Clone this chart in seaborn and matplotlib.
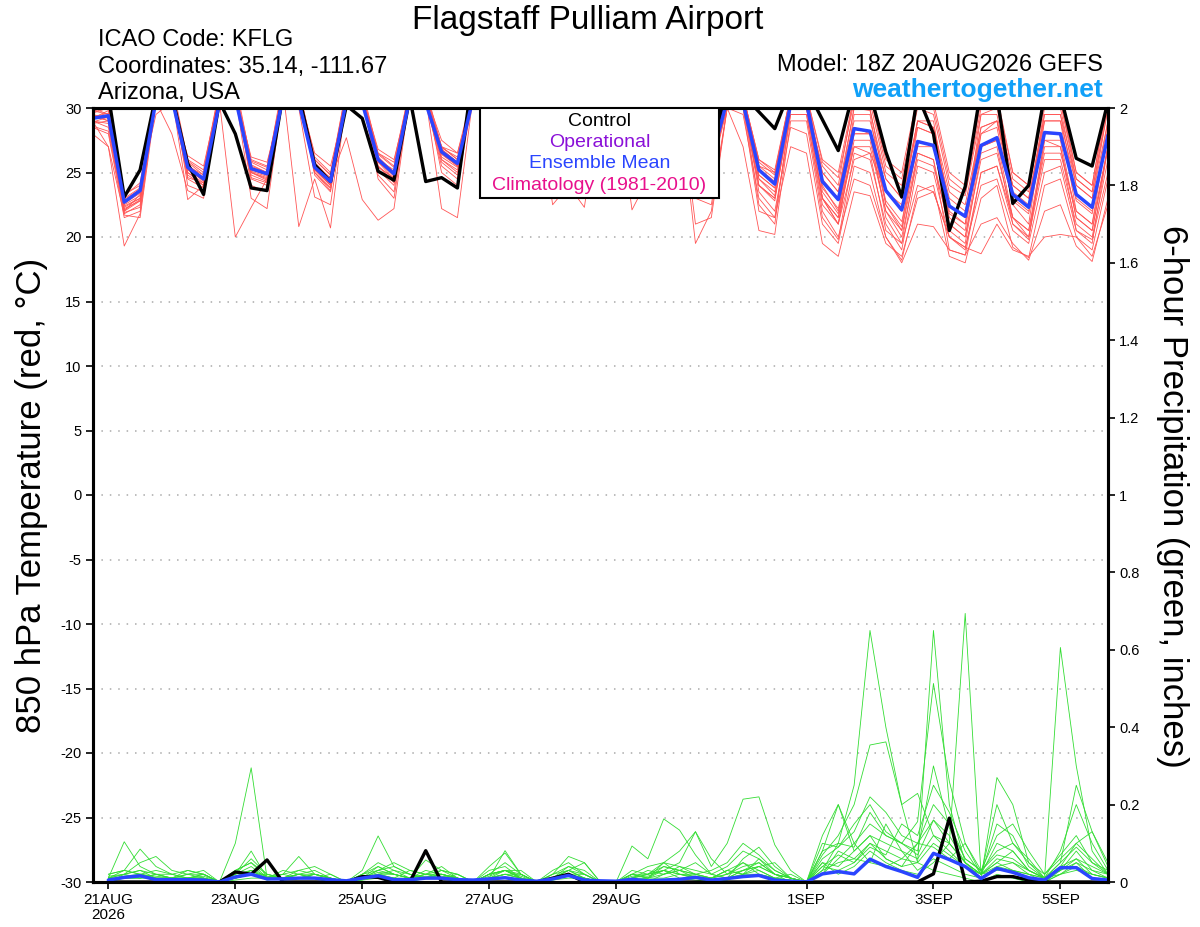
import pandas as pd
import seaborn as sns
import matplotlib.pyplot as plt
from matplotlib.patches import Rectangle

# ---------------- data ----------------
times = pd.date_range('2026-08-20 18:00', periods=65, freq='6h')
precip_times = times[1:]

# 850 hPa temperature (C): control, ensemble mean
temp_control = [29.8, 31.0,
                23.1, 25.2, 31.0, 31.0,  25.7, 23.3, 30.5, 28.0,  23.8, 23.6, 31.0, 31.0,
                25.6, 24.3, 30.2, 29.2,  25.1, 24.4, 30.8, 24.3,  24.6, 23.8, 33.0, 31.5,
                27.5, 26.8, 31.5, 31.0,  27.0, 26.5, 31.2, 31.5,  27.0, 27.3, 31.5, 31.8,
                27.5, 26.8, 31.5, 31.0,  29.7, 28.4, 31.5, 31.5,  29.1, 26.7, 31.5, 31.2,
                26.6, 23.1, 31.0, 28.0,  20.5, 23.9, 31.5, 31.0,  22.6, 24.0, 31.0, 31.0,
                26.1, 25.5, 30.5]
temp_mean = [29.2, 29.4,
             22.7, 23.6, 30.6, 30.8,  25.4, 24.5, 30.4, 30.8,  25.3, 24.9, 30.8, 30.5,
             25.4, 24.3, 30.6, 30.4,  26.0, 24.9, 30.8, 30.4,  26.6, 25.7, 30.8, 30.9,
             27.0, 26.5, 31.0, 31.0,  27.0, 26.3, 31.0, 31.2,  27.2, 26.6, 31.0, 31.0,
             26.8, 26.0, 30.6, 30.4,  25.2, 24.1, 30.3, 30.4,  24.3, 22.9, 28.4, 28.2,
             23.6, 22.1, 27.4, 27.1,  22.4, 21.6, 27.1, 27.7,  23.3, 22.3, 28.1, 28.0,
             23.3, 22.3, 27.9]

# ensemble members (red)
t01 = [29.0, 28.5, 21.8, 22.5, 31.5, 32.0, 24.8, 24.0, 31.0, 31.5, 24.6, 24.2, 31.5, 31.0,
       25.0, 23.8, 31.2, 30.8, 25.5, 24.2, 31.5, 31.0, 26.0, 25.0, 31.5, 31.5, 26.5, 25.8, 31.5, 31.5,
       26.5, 25.5, 31.5, 31.8, 26.8, 26.0, 31.5, 31.5, 26.0, 25.0, 31.0, 31.0, 24.5, 23.2, 31.0, 31.0,
       23.5, 21.8, 29.5, 29.5, 22.5, 20.8, 28.5, 28.0, 21.5, 20.5, 28.0, 28.5, 22.5, 21.0, 29.0, 29.0,
       22.0, 21.0, 28.5]
t02 = [28.0, 27.0, 19.3, 21.8, 31.0, 31.5, 25.5, 24.8, 31.5, 32.0, 25.8, 25.2, 32.0, 31.5,
       26.0, 24.8, 31.5, 31.0, 26.5, 25.5, 31.5, 31.0, 27.0, 26.0, 31.5, 31.5, 27.5, 27.0, 31.5, 31.5,
       27.5, 26.8, 31.5, 31.5, 27.8, 27.2, 31.5, 31.5, 27.2, 26.5, 31.0, 31.0, 25.8, 24.8, 31.0, 31.0,
       25.0, 23.5, 30.0, 29.8, 24.5, 23.0, 29.0, 28.5, 23.5, 22.5, 28.5, 29.0, 24.0, 23.0, 29.5, 29.5,
       24.5, 23.5, 30.0]
t03 = [29.5, 29.0, 22.3, 23.0, 30.5, 31.0, 22.9, 24.0, 30.5, 20.0, 22.3, 24.5, 31.0, 31.0,
       25.2, 24.0, 31.0, 30.5, 26.2, 25.0, 31.0, 30.5, 26.8, 25.8, 31.0, 31.0, 27.2, 26.8, 31.2, 31.2,
       27.2, 26.5, 31.2, 31.5, 27.5, 27.0, 31.2, 31.2, 27.0, 26.2, 30.8, 30.6, 25.5, 24.5, 30.5, 30.5,
       24.0, 22.0, 27.0, 27.0, 22.0, 20.0, 26.0, 25.5, 21.0, 20.0, 26.0, 26.5, 21.5, 20.0, 27.0, 27.0,
       21.5, 20.5, 27.0]
t04 = [28.5, 28.0, 21.5, 22.0, 31.0, 31.5, 24.0, 23.5, 31.0, 31.5, 24.0, 23.5, 31.5, 20.8,
       24.5, 20.7, 31.0, 30.8, 24.8, 23.5, 31.0, 30.5, 25.5, 24.5, 31.0, 31.0, 26.0, 25.5, 31.0, 31.0,
       26.0, 25.0, 31.0, 31.5, 26.2, 25.5, 31.0, 31.0, 25.5, 24.8, 30.5, 30.5, 24.0, 22.8, 30.0, 30.0,
       23.0, 21.0, 28.0, 28.0, 21.5, 19.5, 26.5, 26.0, 20.5, 19.5, 26.5, 27.0, 21.0, 19.8, 27.5, 27.0,
       20.5, 19.5, 27.0]
t05 = [29.8, 29.5, 22.8, 23.5, 30.8, 31.0, 25.8, 24.8, 30.8, 31.0, 25.5, 25.0, 31.0, 31.0,
       25.8, 24.5, 27.7, 22.9, 21.3, 22.2, 31.0, 31.0, 27.0, 26.0, 31.0, 31.0, 27.0, 26.5, 31.0, 31.0,
       27.2, 26.5, 31.0, 31.2, 27.0, 26.5, 31.0, 31.0, 26.5, 25.8, 30.5, 30.5, 24.8, 23.8, 30.5, 30.5,
       25.0, 23.5, 29.0, 29.0, 24.5, 23.0, 28.5, 28.0, 23.0, 22.0, 28.0, 29.0, 24.0, 23.0, 29.0, 29.0,
       24.0, 23.0, 29.0]
t06 = [28.8, 29.0, 22.0, 22.8, 31.0, 31.0, 25.0, 24.2, 31.0, 31.0, 25.0, 24.6, 31.0, 31.0,
       25.2, 24.0, 31.0, 30.8, 25.8, 24.5, 31.0, 30.8, 22.2, 21.5, 31.0, 31.0, 26.5, 26.0, 31.0, 31.0,
       26.8, 26.0, 31.0, 31.0, 26.5, 26.0, 31.0, 31.0, 26.0, 25.5, 30.5, 30.5, 24.0, 23.0, 29.5, 29.5,
       22.0, 20.0, 24.5, 24.0, 20.0, 18.0, 21.0, 20.8, 19.0, 18.6, 21.0, 21.5, 19.5, 18.2, 22.0, 22.5,
       19.3, 18.1, 23.0]
t07 = [29.2, 29.8, 22.5, 23.2, 31.0, 31.5, 25.2, 24.5, 31.0, 31.5, 25.2, 24.8, 31.5, 31.0,
       25.5, 24.2, 31.0, 31.0, 26.2, 25.0, 31.0, 31.0, 26.8, 25.8, 31.5, 31.5, 27.2, 26.8, 31.5, 31.5,
       27.0, 26.5, 31.5, 31.5, 22.1, 24.5, 30.5, 30.5, 19.5, 22.0, 30.0, 30.0, 24.0, 23.0, 30.0, 30.0,
       25.5, 24.0, 31.0, 31.0, 25.5, 24.5, 30.5, 30.0, 24.5, 23.5, 30.0, 30.5, 25.0, 24.0, 30.5, 30.5,
       25.0, 24.0, 31.0]
t08 = [29.0, 28.8, 22.2, 22.8, 31.0, 31.0, 25.0, 24.0, 31.0, 31.0, 24.8, 24.3, 31.0, 31.0,
       25.0, 23.8, 31.0, 30.5, 25.5, 24.5, 31.0, 30.5, 26.0, 25.2, 31.0, 30.5, 26.5, 26.0, 31.0, 22.5,
       24.0, 22.3, 31.0, 31.0, 26.5, 26.0, 31.0, 31.0, 26.0, 25.0, 30.0, 27.0, 20.5, 20.2, 29.0, 29.0,
       21.5, 19.8, 26.5, 26.0, 21.0, 19.0, 25.5, 25.0, 20.0, 19.2, 24.0, 24.5, 20.5, 19.5, 25.0, 25.5,
       20.5, 19.8, 25.0]
t09 = [29.5, 29.2, 22.6, 23.4, 31.0, 31.0, 25.6, 24.6, 30.8, 31.0, 25.6, 25.0, 31.0, 31.0,
       25.6, 24.6, 31.0, 31.0, 26.0, 25.2, 31.0, 31.0, 26.5, 25.5, 31.0, 31.0, 26.8, 26.2, 31.0, 31.0,
       27.0, 26.0, 31.0, 31.0, 27.0, 26.4, 31.0, 31.0, 26.4, 25.5, 30.0, 29.5, 23.0, 21.5, 27.0, 26.5,
       19.5, 18.5, 23.5, 23.2, 19.5, 18.5, 23.0, 23.5, 20.0, 19.0, 25.0, 25.5, 21.0, 20.0, 26.0, 26.0,
       21.0, 20.0, 26.0]
t10 = [30.2, 30.5, 23.0, 23.8, 31.5, 32.0, 26.0, 25.2, 31.5, 31.5, 26.0, 25.5, 31.5, 31.5,
       26.2, 25.0, 31.5, 31.5, 26.5, 25.8, 31.5, 31.5, 27.0, 26.5, 31.5, 31.5, 27.5, 27.0, 31.5, 31.5,
       27.5, 27.0, 31.5, 31.5, 27.8, 27.0, 31.5, 31.5, 27.2, 26.8, 31.0, 31.0, 25.5, 25.0, 31.0, 31.0,
       26.0, 25.0, 31.0, 31.0, 26.0, 25.0, 31.0, 30.5, 25.0, 24.0, 30.5, 31.0, 25.0, 24.0, 31.0, 31.0,
       25.0, 24.0, 31.0]
t11 = [28.6, 28.2, 21.9, 22.3, 30.8, 31.0, 24.5, 23.8, 30.8, 31.0, 24.5, 24.0, 31.0, 31.0,
       24.8, 23.5, 31.0, 30.5, 25.2, 24.0, 31.0, 30.5, 25.8, 24.8, 31.0, 31.0, 26.2, 25.5, 31.0, 31.0,
       26.3, 25.5, 31.0, 31.0, 26.5, 25.8, 31.0, 31.0, 21.0, 21.5, 30.0, 30.0, 22.0, 21.5, 29.5, 29.5,
       22.5, 21.0, 27.5, 27.5, 22.0, 20.5, 26.5, 26.0, 19.0, 18.6, 25.0, 25.5, 21.5, 20.5, 26.5, 26.5,
       22.0, 21.0, 27.0]
t12 = [29.3, 29.6, 22.4, 23.0, 31.0, 31.0, 25.3, 24.3, 31.0, 31.0, 25.0, 24.5, 31.0, 31.0,
       25.3, 24.0, 31.0, 31.0, 25.8, 24.8, 31.0, 31.0, 26.5, 25.5, 31.0, 31.0, 27.0, 26.3, 31.0, 31.0,
       26.8, 26.0, 31.0, 31.0, 27.0, 26.3, 31.0, 31.0, 26.5, 25.8, 30.5, 30.5, 24.5, 23.5, 30.0, 30.0,
       23.0, 21.5, 27.0, 26.5, 20.5, 19.5, 24.0, 23.5, 20.0, 19.2, 18.7, 21.0, 19.0, 18.5, 20.0, 20.2,
       20.0, 19.0, 24.5]
t13 = [29.6, 30.0, 22.9, 23.7, 31.0, 31.0, 25.5, 24.6, 31.0, 31.0, 25.4, 25.0, 31.0, 31.0,
       25.5, 24.4, 31.0, 31.0, 26.0, 25.0, 31.0, 31.0, 26.6, 25.8, 31.0, 31.0, 27.0, 26.5, 31.0, 31.0,
       27.0, 26.3, 31.0, 31.0, 27.2, 26.6, 31.0, 31.0, 26.8, 26.0, 31.0, 31.0, 25.3, 24.3, 31.0, 31.0,
       24.5, 23.0, 30.0, 30.0, 23.5, 22.0, 29.0, 28.5, 22.5, 21.5, 28.5, 29.0, 23.0, 22.0, 29.5, 29.5,
       23.0, 22.0, 29.0]
t14 = [28.9, 29.3, 22.1, 22.9, 31.2, 31.2, 25.2, 24.4, 31.2, 31.2, 25.1, 24.7, 31.2, 31.2,
       25.3, 24.1, 31.2, 31.0, 25.9, 24.7, 31.2, 31.0, 26.4, 25.5, 31.2, 31.2, 26.8, 26.2, 31.2, 31.2,
       26.8, 26.0, 31.2, 31.2, 27.0, 26.4, 31.2, 31.2, 26.5, 25.6, 30.8, 30.8, 24.8, 23.8, 30.5, 30.5,
       23.8, 22.2, 28.0, 28.0, 22.8, 21.2, 27.0, 27.0, 21.8, 21.0, 27.0, 27.5, 22.8, 21.8, 28.0, 28.0,
       22.8, 21.8, 28.0]
t15 = [29.0, 27.0,
       21.7, 21.5, 30.5, 28.0,  23.6, 23.0, 30.5, 31.0,  23.0, 22.2, 31.0, 30.0,
       23.1, 22.5, 31.0, 31.0,  24.5, 23.0, 31.0, 31.0,  25.0, 24.0, 31.0, 31.0,
       26.0, 25.0, 31.0, 31.0,  25.5, 24.5, 31.0, 31.0,  26.0, 25.0, 31.0, 31.0,
       23.0, 22.5, 30.0, 30.5,  22.5, 21.0, 30.0, 30.0,  23.0, 21.5, 28.5, 28.0,
       22.5, 20.5, 27.5, 27.0,  21.0, 20.0, 27.0, 27.5,  21.5, 20.5, 27.5, 27.5,
       21.5, 20.5, 27.0]
t16 = [30.0, 29.5,
       23.3, 24.0, 29.5, 30.5,  26.3, 25.5, 31.0, 31.0,  26.2, 25.8, 30.5, 31.0,
       26.5, 25.5, 30.5, 31.0,  26.8, 26.0, 31.0, 31.0,  27.5, 26.5, 31.0, 31.0,
       28.0, 27.5, 31.0, 31.0,  28.0, 27.5, 31.0, 31.0,  28.0, 27.5, 31.0, 31.0,
       27.5, 27.0, 31.0, 31.0,  26.0, 25.0, 30.5, 30.0,  23.0, 21.0, 26.0, 26.5,
       23.5, 22.5, 29.0, 29.0,  22.0, 21.0, 29.5, 29.5,  23.5, 22.5, 30.0, 30.0,
       24.0, 23.0, 30.0]
t17 = [29.4, 29.0,
       22.0, 23.3, 31.0, 31.0,  24.6, 24.2, 31.0, 31.0,  25.0, 24.4, 31.0, 31.0,
       25.0, 23.6, 31.0, 31.0,  25.4, 24.6, 31.0, 31.0,  26.2, 25.4, 31.0, 31.0,
       26.6, 26.0, 31.0, 31.0,  26.6, 25.8, 31.0, 31.0,  26.8, 26.2, 31.0, 31.0,
       26.2, 25.4, 30.5, 30.5,  23.5, 22.0, 28.5, 28.0,  21.0, 19.5, 25.5, 25.0,
       20.0, 18.2, 23.5, 24.0,  18.5, 18.0, 23.0, 24.0,  19.2, 18.4, 24.0, 24.5,
       20.0, 18.5, 22.5]
t18 = [29.7, 30.2,
       23.2, 24.2, 31.0, 31.0,  25.9, 25.0, 31.0, 31.0,  25.9, 25.4, 31.0, 31.0,
       26.0, 24.8, 31.0, 31.0,  26.4, 25.4, 31.0, 31.0,  26.9, 26.2, 31.0, 31.0,
       27.3, 26.9, 31.0, 31.0,  27.3, 26.7, 31.0, 31.0,  27.5, 26.9, 31.0, 31.0,
       27.0, 26.3, 31.0, 31.0,  26.0, 25.2, 31.0, 31.0,  25.8, 24.6, 30.5, 30.5,
       25.0, 24.0, 30.0, 29.5,  24.0, 23.2, 29.5, 30.0,  24.5, 23.5, 30.5, 30.5,
       24.5, 23.5, 30.5]
temp_members = [t01, t02, t03, t04, t05, t06, t07, t08, t09, t10,
                t11, t12, t13, t14, t15, t16, t17, t18]

# 6-hour precipitation (inches), valid 21AUG 00Z onwards
precip_control = [0, 0, 0, 0, 0, 0, 0, 0, .026, .02, .057, 0, 0, 0, 0, 0,
                  .014, .012, 0, 0, .081, 0, 0, 0, 0, 0, 0, 0, .01, .02, 0, 0,
                  0, 0, 0, 0, 0, 0, 0, 0, 0, 0, 0, 0, 0, 0, 0, 0,
                  0, 0, 0, 0, .021, .165, 0, .002, .014, .014, .005, 0, 0, 0, 0, 0]
precip_mean = [.005, .012, .016, .006, .006, .006, .005, 0, .013, .02, .008, .008, .01, .01, .006, .003,
               .01, .016, .006, .006, .01, .01, .006, .005, .008, .011, .005, .002, .008, .017, .005, .003,
               .002, .007, .003, .005, .007, .012, .005, .009, .014, .017, .005, .002, 0, .021, .027, .021,
               .059, .040, .027, .012, .074, .058, .040, .009, .035, .025, .011, .005, .037, .037, .009, .005]

# ensemble members (green)
p01 = [0, .02, .03, .01, 0, .005, .01, 0, .10, .295, .01, .005, .01, .01, 0, 0,
       .005, .02, .01, 0, .01, .02, .01, 0, .01, .03, .01, 0, .005, .02, 0, 0,
       0, .01, 0, .02, .03, .01, 0, .005, .02, .03, .01, 0, 0, .03, .1, .25,
       .65, .4, .2, .05, .03, .02, .01, 0, .02, .01, 0, 0, .03, .05, .01, 0]
p02 = [.01, .104, .04, .02, .01, .03, .02, 0, .02, .04, .01, .02, .03, .02, .01, 0,
       .01, .04, .02, .01, .03, .02, .01, 0, .02, .05, .02, 0, .01, .03, .01, 0,
       0, .02, .01, .03, .01, .005, 0, .01, .03, .05, .02, 0, 0, .07, .12, .2,
       .354, .362, .2, .229, .12, .1, .05, .02, .03, .03, .01, 0, .02, .03, .02, .01]
p03 = [.02, .03, .085, .04, .02, .01, .005, 0, .03, .05, .02, .01, .02, .03, .01, 0,
       .01, .03, .04, .02, .01, .01, 0, 0, .02, .03, .03, 0, .01, .04, .02, 0,
       0, .03, .02, .05, .02, .01, .01, .03, .05, .02, .01, .005, 0, .04, .03, .05,
       .1, .06, .04, .05, .65, .2, .05, .01, .04, .05, .02, .01, .03, .08, .03, .01]
p04 = [.01, .02, .05, .066, .03, .02, .02, 0, .01, .03, .01, .02, .066, .02, .01, 0,
       .02, .05, .03, .01, .02, .02, .01, 0, .03, .04, .01, 0, .02, .066, .05, 0,
       0, .01, .02, .04, .03, .02, .01, .02, .04, .05, .02, .01, 0, .02, .06, .1,
       .15, .12, .1, .156, .513, .26, .1, .02, .05, .08, .03, .01, .02, .04, .02, .01]
p05 = [.005, .01, .02, .01, .01, .02, .03, 0, .02, .03, .005, .01, .03, .04, .02, 0,
       .03, .119, .04, .02, .01, .03, .02, 0, .01, .02, .02, 0, .02, .04, .03, 0,
       0, .02, .04, .05, .04, .02, .01, .03, .02, .04, .05, .01, 0, .05, .02, .04,
       .08, .05, .03, .02, .05, .1, .694, .02, .05, .03, .02, 0, .02, .05, .03, .02]
p06 = [.02, .03, .02, .03, .02, .01, .01, 0, .02, .08, .01, .03, .02, .01, .02, 0,
       .01, .03, .05, .03, .02, .04, .01, 0, .04, .075, .02, 0, .01, .02, .01, 0,
       0, .093, .06, .163, .134, .07, .02, .01, .03, .04, .02, .01, 0, .02, .08, .06,
       .1, .08, .06, .05, .1, .07, .04, .02, .06, .05, .03, .01, .606, .3, .08, .02]
p07 = [.01, .02, .03, .02, .01, .01, .02, 0, .03, .05, .01, .01, .02, .01, 0, 0,
       .02, .03, .02, .01, .057, .03, .02, 0, .01, .081, .02, 0, .03, .05, .02, 0,
       0, .02, .01, .05, .08, .13, .04, .1, .214, .22, .096, .03, 0, .12, .2, .08,
       .12, .1, .08, .03, .06, .04, .02, .01, .27, .2, .05, .01, .03, .06, .04, .02]
p08 = [.015, .02, .01, .02, .02, .03, .02, 0, .01, .02, .01, .02, .01, .02, .01, 0,
       .01, .02, .01, .03, .02, .01, .02, 0, .02, .03, .01, 0, .01, .03, .05, 0,
       0, .01, .02, .03, .05, .13, .06, .02, .05, .03, .01, .02, 0, .08, .2, .1,
       .05, .15, .08, .06, .12, .08, .04, .02, .2, .1, .06, .01, .05, .25, .13, .05]
p09 = [.01, .01, .02, .01, .005, .01, .02, 0, .01, .02, .02, .01, .01, .02, .01, 0,
       .01, .02, .03, .02, .01, .02, .01, 0, .02, .03, .02, 0, .01, .02, .02, 0,
       0, .01, .01, .02, .03, .02, .01, .03, .02, .06, .03, .01, 0, .05, .04, .08,
       .12, .06, .04, .1, .2, .15, .06, .03, .08, .1, .05, .02, .06, .1, .13, .04]
p10 = [0, .01, .01, .01, .01, .005, .01, 0, .005, .01, .01, .005, .01, .01, .005, 0,
       .005, .01, .01, .005, .01, .01, .005, 0, .01, .02, .01, 0, .005, .01, .01, 0,
       0, .005, .01, .01, .02, .01, .005, .01, .02, .02, .01, .005, 0, .03, .05, .06,
       .05, .04, .06, .1, .16, .12, .05, .02, .04, .03, .02, .01, .04, .06, .02, .01]
p11 = [.005, .015, .02, .015, .01, .01, .015, 0, .015, .03, .015, .01, .02, .02, .01, 0,
       .01, .025, .02, .01, .02, .015, .01, 0, .015, .03, .015, 0, .01, .03, .02, 0,
       0, .015, .015, .03, .02, .015, .01, .02, .03, .04, .02, .01, 0, .06, .09, .15,
       .2, .13, .1, .08, .3, .14, .06, .03, .07, .06, .03, .01, .05, .09, .05, .03]
p12 = [.01, .01, .015, .01, .01, .01, .01, 0, .01, .02, .01, .01, .01, .01, .01, 0,
       .01, .015, .01, .01, .015, .01, .01, 0, .01, .02, .01, 0, .01, .02, .01, 0,
       0, .02, .01, .04, .03, .05, .02, .01, .06, .09, .04, .01, 0, .08, .1, .09,
       .18, .12, .1, .07, .16, .1, .05, .02, .1, .08, .03, .01, .04, .1, .06, .02]
p13 = [.01, .03, .02, .01, .01, .02, .01, 0, .02, .06, .02, .01, .01, .02, .01, 0,
       .02, .04, .02, .01, .02, .03, .01, 0, .01, .02, .01, 0, .02, .03, .01, 0,
       0, .01, .03, .02, .04, .03, .02, .04, .08, .06, .02, .01, 0, .1, .09, .13,
       .22, .18, .12, .1, .09, .06, .1, .03, .12, .15, .08, .02, .07, .12, .05, .02]
p14 = [.005, .01, .01, .02, .01, .01, .01, 0, .01, .02, .01, .01, .02, .01, .005, 0,
       .01, .02, .02, .01, .01, .02, .01, 0, .02, .03, .01, 0, .01, .02, .01, 0,
       0, .02, .02, .03, .02, .02, .03, .05, .1, .07, .03, .01, 0, .04, .07, .05,
       .09, .07, .15, .12, .25, .18, .08, .02, .15, .12, .04, .01, .08, .2, .1, .03]
precip_members = [p01, p02, p03, p04, p05, p06, p07, p08, p09, p10, p11, p12, p13, p14]

tick_dates = pd.to_datetime(['2026-08-21', '2026-08-23', '2026-08-25', '2026-08-27',
                             '2026-08-29', '2026-09-01', '2026-09-03', '2026-09-05'])
tick_labels = ['21AUG\n2026', '23AUG', '25AUG', '27AUG', '29AUG', '1SEP', '3SEP', '5SEP']

legend_items = ['Control', 'Operational', 'Ensemble Mean', 'Climatology (1981-2010)']
legend_colors = ['black', '#8a10d8', '#2a45ff', '#e8108c']

for m in temp_members:
    assert len(m) == len(times)
for m in precip_members:
    assert len(m) == len(precip_times)

# ---------------- long tables for seaborn ----------------
temp_df = pd.DataFrame([(n, t, v) for n, m in enumerate(temp_members) for t, v in zip(times, m)],
                       columns=['member', 'time', 'value'])
precip_df = pd.DataFrame([(n, t, v) for n, m in enumerate(precip_members) for t, v in zip(precip_times, m)],
                         columns=['member', 'time', 'value'])

# ---------------- figure ----------------
sns.set_style('white')
plt.rcParams['font.family'] = ['Liberation Sans', 'DejaVu Sans']
plt.rcParams.update({'text.color': 'black', 'axes.labelcolor': 'black',
                     'xtick.color': 'black', 'ytick.color': 'black',
                     'axes.unicode_minus': False})

fig = plt.figure(figsize=(12, 9.27), dpi=100)
ax = fig.add_axes([92.5 / 1200, 1 - 882 / 927, 1015.5 / 1200, 774 / 927])
ax2 = ax.twinx()

RED = '#ff5555'
GREEN = '#33dd33'
BLUE = '#2a45ff'

sns.lineplot(data=temp_df, x='time', y='value', units='member', estimator=None,
             color=RED, lw=0.6, ax=ax, legend=False)
sns.lineplot(x=times, y=temp_control, color='black', lw=2.4, ax=ax)
sns.lineplot(x=times, y=temp_mean, color=BLUE, lw=2.5, ax=ax)

sns.lineplot(data=precip_df, x='time', y='value', units='member', estimator=None,
             color=GREEN, lw=0.6, ax=ax2, legend=False)
sns.lineplot(x=precip_times, y=precip_control, color='black', lw=2.4, ax=ax2)
sns.lineplot(x=precip_times, y=precip_mean, color=BLUE, lw=2.5, ax=ax2)

ax.set_xlim(times[0], times[-1])
ax.set_ylim(-30, 30)
ax2.set_ylim(0, 2)

ax.set_yticks(range(-30, 31, 5))
ax2.set_yticks([i / 5 for i in range(11)])
ax2.set_yticklabels(['%g' % (i / 5) for i in range(11)])
ax.set_xticks(tick_dates)
ax.set_xticklabels(tick_labels, linespacing=1.1)

ax.tick_params(axis='y', labelsize=10.5, length=5, width=1.2, pad=3, direction='out', left=True)
ax.tick_params(axis='x', labelsize=11, length=5, width=1.2, pad=3, direction='out', bottom=True)
ax2.tick_params(axis='y', labelsize=10.5, length=5, width=1.2, pad=3, direction='out', right=True)
for a in (ax, ax2):
    a.set_xlabel('')
    a.set_ylabel('')
    for s in a.spines.values():
        s.set_linewidth(2.2)
        s.set_color('black')

ax.set_axisbelow(True)
ax.yaxis.grid(True, linestyle=(0, (1, 4.5)), color='#aaaaaa', lw=1.1)
ax.xaxis.grid(False)
ax2.grid(False)

# legend box (text only, colours per item)
ax2.add_patch(Rectangle((0.3816, 0.8837), 0.2354, 0.1163, transform=ax2.transAxes,
                        facecolor='white', edgecolor='black', lw=1.5, zorder=10))
for k, (lab, col) in enumerate(zip(legend_items, legend_colors)):
    ax2.text(0.4993, 0.983 - k * 0.0275, lab, color=col, fontsize=14, ha='center', va='center',
             transform=ax2.transAxes, zorder=11)

# axis titles
fig.text(32 / 1200, 1 - 495 / 927, '850 hPa Temperature (red, °C)', rotation=90,
         fontsize=25, ha='center', va='center')
fig.text(1172 / 1200, 1 - 496 / 927, '6-hour Precipitation (green, inches)', rotation=270,
         fontsize=25, ha='center', va='center')

# header
fig.text(588 / 1200, 1 - 29 / 927, 'Flagstaff Pulliam Airport', fontsize=24, ha='center', va='baseline')
fig.text(98 / 1200, 1 - 46 / 927, 'ICAO Code: KFLG', fontsize=17, va='baseline')
fig.text(98 / 1200, 1 - 72.7 / 927, 'Coordinates: 35.14, -111.67', fontsize=17, va='baseline')
fig.text(98 / 1200, 1 - 99.3 / 927, 'Arizona, USA', fontsize=17, va='baseline')
fig.text(1103 / 1200, 1 - 71 / 927, 'Model: 18Z 20AUG2026 GEFS', fontsize=17, ha='right', va='baseline')
fig.text(1103 / 1200, 1 - 97 / 927, 'weathertogether.net', fontsize=19, fontweight='bold',
         color='#10a0f8', ha='right', va='baseline')

fig.savefig('out.png', dpi=100)
